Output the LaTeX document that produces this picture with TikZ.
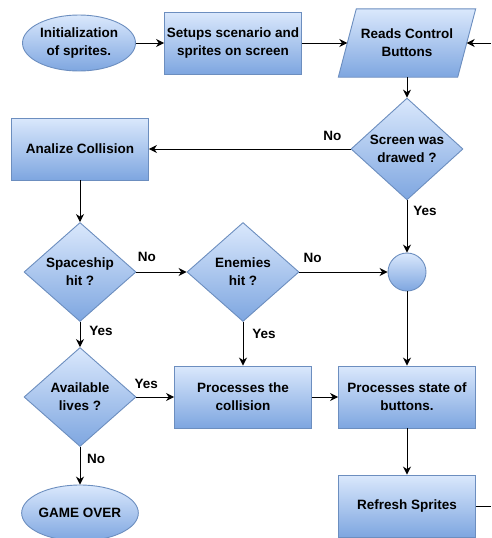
\documentclass[tikz,border=0pt]{standalone}
\usepackage{fontspec}
\setmainfont{Liberation Sans}
\usetikzlibrary{positioning, shapes.geometric, arrows.meta}
\definecolor{fillTop}{HTML}{DAE8FC}
\definecolor{fillBot}{HTML}{7EA6E0}
\definecolor{edgeBlue}{HTML}{6C8EBF}
\pgfdeclarelayer{bg}
\pgfsetlayers{bg,main}

\begin{document}
\begin{tikzpicture}[x=1pt, y=-1pt, on grid,
	every node/.style={font=\fontsize{13.5}{18}\selectfont\bfseries, align=center},
	shape fill/.style={draw=edgeBlue, line width=0.9pt, top color=fillTop, bottom color=fillBot, inner sep=0pt},
	box/.style={shape fill, rectangle, minimum width=137pt, minimum height=62pt},
	term/.style={shape fill, ellipse, minimum width=113pt, minimum height=56pt},
	cond/.style={shape fill, diamond, minimum width=112pt, minimum height=99pt},
	io/.style={rectangle, inner sep=0pt, minimum width=119pt, minimum height=68pt},
	joint/.style={shape fill, circle, minimum size=38pt},
	lbl/.style={inner sep=0pt},
	arr/.style={draw=black, line width=1pt, -{Stealth[length=8pt, width=8pt]}},
	wire/.style={draw=black, line width=1pt}]
	\useasboundingbox (0,0) rectangle (491,538);

	\node[term] (init) at (79,43) {Initialization\\of sprites.};
	\node[box, right=154pt of init] (setup) {Setups scenario and\\sprites on screen};
	\node[io, right=174pt of setup] (read) {Reads Control\\Buttons};
	\node[cond, below=106pt of read] (drawn) {Screen was\\drawed ?};
	\node[box, left=327pt of drawn] (coll) {Analize Collision};
	\node[cond, below=123pt of coll] (ship) {Spaceship\\hit ?};
	\node[cond, right=163pt of ship] (enem) {Enemies\\hit ?};
	\node[joint, below=123pt of drawn] (circ) {};
	\node[cond, below=125pt of ship] (lives) {Available\\lives ?};
	\node[box, right=163pt of lives] (proc) {Processes the\\collision};
	\node[box, right=164pt of proc] (state) {Processes state of\\buttons.};
	\node[box, below=109pt of state] (refr) {Refresh Sprites};
	\node[term, below=116pt of lives] (over) {GAME OVER};

	\begin{pgfonlayer}{bg}
		\shade[shape fill] ([xshift=9pt]read.north west) -- ([xshift=9pt]read.north east)
			-- ([xshift=-9pt]read.south east) -- ([xshift=-9pt]read.south west) -- cycle;
	\end{pgfonlayer}

	\coordinate (back) at (491,43);
	\coordinate (loop) at (491,506);

	\draw[arr] (init) -- (setup);
	\draw[arr] (setup) -- (read);
	\draw[arr] (back) -- (read);
	\draw[arr] (read) -- (drawn);
	\draw[arr] (drawn) -- node[lbl, pos=0.09, yshift=13pt] {No} (coll);
	\draw[arr] (drawn) -- node[lbl, pos=0.2, xshift=18pt] {Yes} (circ);
	\draw[arr] (coll) -- (ship);
	\draw[arr] (ship) -- node[lbl, pos=0.21, yshift=15pt] {No} (enem);
	\draw[arr] (enem) -- node[lbl, pos=0.15, yshift=14pt] {No} (circ);
	\draw[arr] (ship) -- node[lbl, pos=0.35, xshift=21pt] {Yes} (lives);
	\draw[arr] (enem) -- node[lbl, pos=0.27, xshift=21pt] {Yes} (proc);
	\draw[arr] (lives) -- node[lbl, pos=0.26, yshift=13pt] {Yes} (proc);
	\draw[arr] (lives) -- node[lbl, pos=0.32, xshift=16pt] {No} (over);
	\draw[arr] (proc) -- (state);
	\draw[arr] (circ) -- (state);
	\draw[arr] (state) -- (refr);
	\draw[wire] (refr) -- (loop);
\end{tikzpicture}
\end{document}
